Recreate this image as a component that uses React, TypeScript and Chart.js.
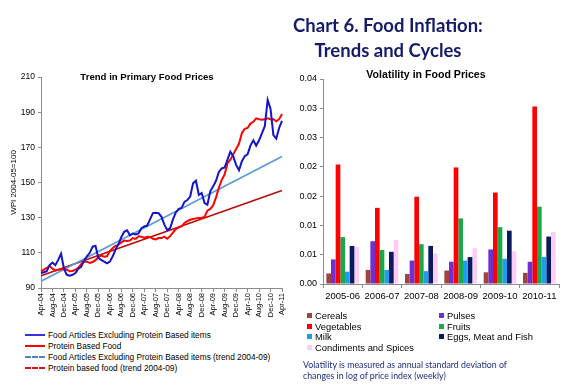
import React, { useEffect, useRef } from "react";
import { Chart, registerables } from "chart.js";
Chart.register(...registerables);

// ---------- Data: left chart (monthly, Apr-04 .. Apr-11) ----------
const MONTH_NAMES = ["Jan", "Feb", "Mar", "Apr", "May", "Jun", "Jul", "Aug", "Sep", "Oct", "Nov", "Dec"];
const START_YEAR = 2004;
const START_MONTH = 3; // April

const foodExProtein = [
  98.5, 99, 99.5, 103, 104.5, 103, 106, 109.5, 101, 97.5, 97, 97.5,
  98.5, 101, 102, 105.5, 108, 110, 113.5, 114, 107, 106, 105, 104,
  105, 108, 112, 115, 119, 122, 122.8, 120, 121, 120.5, 121, 124,
  125, 125.5, 129, 132.6, 132.8, 132.5, 130.5, 126, 123, 124, 129, 133,
  135, 135.5, 139, 140, 142, 149.5, 151, 143, 144, 138.3, 137.4, 145,
  147.8, 151, 156, 158, 158.5, 163, 167.5, 165, 160, 157, 162, 165,
  166, 171, 174, 171, 174, 178, 182, 197, 192, 177, 175, 181, 185,
];

const proteinFood = [
  99.5, 100.5, 101.4, 102.5, 101, 100, 100.4, 100.6, 100.8, 100.4, 99.5, 99.7,
  100.5, 101.5, 103.5, 105, 105, 104.2, 104.8, 105.8, 107.5, 108.4, 107.8, 108,
  111, 112.7, 114, 114.5, 116, 117, 116.8, 117, 118.4, 117.9, 119.4, 119.2,
  118.5, 119.2, 119, 118, 117.6, 118.4, 118.4, 119.2, 118, 119.5, 121.5, 123.5,
  124.5, 125, 127, 128, 128.8, 129.2, 129.6, 129.8, 130, 130.4, 134, 135,
  137, 141.5, 147, 151.5, 154.5, 161, 163, 166, 169, 172, 178, 180.5,
  181, 183.5, 184.5, 186.5, 186, 185.7, 186, 186.5, 186, 186, 184.8, 186, 189,
];

// trend lines: start and end values (straight lines)
const foodExProteinTrendEnds = [93.8, 164.8];
const proteinTrendEnds = [97.0, 145.4];

const yTicksLeft = { min: 90, max: 210, step: 20 };

// ---------- Data: right chart ----------
const years = ["2005-06", "2006-07", "2007-08", "2008-09", "2009-10", "2010-11"];
const cereals = [0.0018, 0.0024, 0.0017, 0.0023, 0.002, 0.0019];
const pulses = [0.0042, 0.0073, 0.004, 0.0038, 0.0059, 0.0038];
const vegetables = [0.0204, 0.013, 0.0149, 0.0199, 0.0156, 0.0303];
const fruits = [0.008, 0.0058, 0.0068, 0.0112, 0.0097, 0.0132];
const milk = [0.0021, 0.0024, 0.0022, 0.004, 0.0043, 0.0046];
const eggsMeatFish = [0.0065, 0.0055, 0.0065, 0.0046, 0.0091, 0.0081];
const condiments = [0.0063, 0.0075, 0.0052, 0.0061, 0.0056, 0.0089];

const yTicksRight = { min: 0, max: 0.035, step: 0.005 };

const SANS = "'Liberation Sans', Arial, sans-serif";

const monthLabels: string[] = foodExProtein.map((_, i) => {
  const m = (START_MONTH + i) % 12;
  const y = START_YEAR + Math.floor((START_MONTH + i) / 12);
  return `${MONTH_NAMES[m]}-${String(y % 100).padStart(2, "0")}`;
});

function trendSeries(ends: number[], n: number) {
  const arr: (number | null)[] = new Array(n).fill(null);
  arr[0] = ends[0];
  arr[n - 1] = ends[1];
  return arr;
}

const barSeries = [
  { label: "Cereals", data: cereals, color: "#A0423E" },
  { label: "Pulses", data: pulses, color: "#7030D0" },
  { label: "Vegetables", data: vegetables, color: "#FF0000" },
  { label: "Fruits", data: fruits, color: "#17A94A" },
  { label: "Milk", data: milk, color: "#1E9CF0" },
  { label: "Eggs, Meat and Fish", data: eggsMeatFish, color: "#0A1A5E" },
  { label: "Condiments and Spices", data: condiments, color: "#FFCCF5" },
];

export default function App() {
  const leftRef = useRef<HTMLCanvasElement | null>(null);
  const rightRef = useRef<HTMLCanvasElement | null>(null);

  useEffect(() => {
    const n = foodExProtein.length;
    const left = new Chart(leftRef.current!, {
      type: "line",
      data: {
        labels: monthLabels,
        datasets: [
          { label: "Food Articles Excluding Protein Based items", data: foodExProtein, borderColor: "#1414C8", borderWidth: 2, pointRadius: 0, tension: 0 },
          { label: "Protein Based Food", data: proteinFood, borderColor: "#FF0000", borderWidth: 2, pointRadius: 0, tension: 0 },
          { label: "Food Articles Excluding Protein Based items (trend 2004-09)", data: trendSeries(foodExProteinTrendEnds, n), borderColor: "#5A9AD8", borderWidth: 1.6, pointRadius: 0, spanGaps: true },
          { label: "Protein based food (trend 2004-09)", data: trendSeries(proteinTrendEnds, n), borderColor: "#B80C0C", borderWidth: 1.6, pointRadius: 0, spanGaps: true },
        ],
      },
      options: {
        animation: false,
        responsive: false,
        layout: { padding: { top: 77, right: 6.5, left: 0, bottom: 0 } },
        plugins: { legend: { display: false }, tooltip: { enabled: false } },
        scales: {
          x: {
            type: "category",
            grid: {
              drawOnChartArea: false,
              tickLength: 4,
              color: (ctx: any) => (ctx.index % 4 === 0 ? "#8c8c8c" : "rgba(0,0,0,0)"),
            },
            border: { color: "#8c8c8c" },
            ticks: {
              autoSkip: false,
              maxRotation: 90,
              minRotation: 90,
              padding: 1,
              color: "#000",
              font: { size: 7.5, family: SANS },
              callback: (_v: any, i: number) => (i % 4 === 0 ? monthLabels[i] : ""),
            },
            afterFit: (s: any) => {
              s.height = 37;
            },
          },
          y: {
            min: yTicksLeft.min,
            max: yTicksLeft.max,
            ticks: { stepSize: yTicksLeft.step, color: "#000", padding: 3, font: { size: 8.5, family: SANS } },
            grid: { drawOnChartArea: false, tickLength: 3, color: "#8c8c8c" },
            border: { color: "#8c8c8c" },
            title: { display: true, text: "WPI 2004-05=100", color: "#000", font: { size: 8, family: SANS }, padding: { top: 9, bottom: 0 } },
            afterFit: (s: any) => {
              s.width = 41;
            },
          },
        },
      },
    } as any);

    const right = new Chart(rightRef.current!, {
      type: "bar",
      data: {
        labels: years,
        datasets: barSeries.map((s) => ({
          label: s.label,
          data: s.data,
          backgroundColor: s.color,
          borderWidth: 0,
          barPercentage: 1,
          categoryPercentage: 0.83,
        })),
      },
      options: {
        animation: false,
        responsive: false,
        layout: { padding: { top: 79, right: 17, left: 0, bottom: 0 } },
        plugins: { legend: { display: false }, tooltip: { enabled: false } },
        scales: {
          x: {
            grid: { drawOnChartArea: false, offset: true, tickLength: 4, color: "#8c8c8c" },
            border: { color: "#8c8c8c" },
            ticks: { color: "#000", padding: 3, maxRotation: 0, minRotation: 0, autoSkip: false, font: { size: 9.5, family: SANS } },
            afterFit: (s: any) => {
              s.height = 26;
            },
          },
          y: {
            min: yTicksRight.min,
            max: yTicksRight.max,
            ticks: {
              stepSize: yTicksRight.step,
              color: "#000",
              padding: 3,
              font: { size: 9, family: SANS },
              callback: (v: any) => (Math.round(Number(v) * 100 + 1e-6) / 100).toFixed(2),
            },
            grid: { drawOnChartArea: false, tickLength: 3, color: "#8c8c8c" },
            border: { color: "#8c8c8c" },
            afterFit: (s: any) => {
              s.width = 33;
            },
          },
        },
      },
    } as any);

    return () => {
      left.destroy();
      right.destroy();
    };
  }, []);

  const abs = (x: number, y: number): React.CSSProperties => ({ position: "absolute", left: x, top: y, whiteSpace: "nowrap" });

  const leftLegend = [
    { label: "Food Articles Excluding Protein Based items", color: "#3333E0", dash: false },
    { label: "Protein Based Food", color: "#FF0000", dash: false },
    { label: "Food Articles Excluding Protein Based items (trend 2004-09)", color: "#4F7FD0", dash: true },
    { label: "Protein based food (trend 2004-09)", color: "#E01010", dash: true },
  ];

  return (
    <div style={{ position: "fixed", left: 0, top: 0, width: 576, height: 388, background: "#fff", overflow: "hidden", fontFamily: SANS }}>
      <canvas ref={leftRef} width={292} height={325} style={{ position: "absolute", left: 0, top: 0, width: 292, height: 325 }} />
      <canvas ref={rightRef} width={286} height={310} style={{ position: "absolute", left: 290, top: 0, width: 286, height: 310 }} />

      {/* main title */}
      <div style={{ position: "absolute", left: 388, top: 13, transform: "translateX(-50%)", textAlign: "center", fontFamily: "Lato, 'Open Sans', sans-serif", fontWeight: 700, fontSize: 18.5, lineHeight: "25px", color: "#141C6A", whiteSpace: "nowrap" }}>
        Chart 6. Food Inflation:
        <br />
        Trends and Cycles
      </div>

      {/* chart titles */}
      <div style={{ position: "absolute", left: 147, top: 71, transform: "translateX(-50%)", fontWeight: 700, fontSize: 9.6, lineHeight: "12px", color: "#000", whiteSpace: "nowrap" }}>
        Trend in Primary Food Prices
      </div>
      <div style={{ position: "absolute", left: 426, top: 67.5, transform: "translateX(-50%)", fontWeight: 700, fontSize: 10.6, lineHeight: "13px", color: "#000", whiteSpace: "nowrap" }}>
        Volatility in Food Prices
      </div>

      {/* left legend */}
      {leftLegend.map((it, i) => (
        <div key={it.label} style={{ ...abs(25, 329 + i * 11), height: 11, display: "flex", alignItems: "center", fontSize: 8.3, color: "#000" }}>
          <span style={{ display: "inline-block", width: 20, height: 0, borderTop: `2px ${it.dash ? "dashed" : "solid"} ${it.color}`, marginRight: 3 }} />
          <span>{it.label}</span>
        </div>
      ))}

      {/* right legend */}
      {barSeries.map((s, i) => (
        <div key={s.label} style={{ ...abs(i % 2 === 0 ? 307 : 439, 310 + Math.floor(i / 2) * 10.6), height: 11, display: "flex", alignItems: "center", fontSize: 9.4, color: "#000" }}>
          <span style={{ display: "inline-block", width: 5, height: 5, background: s.color, marginRight: 3 }} />
          <span>{s.label}</span>
        </div>
      ))}

      {/* note */}
      <div style={{ position: "absolute", left: 303, top: 359, fontFamily: "Lato, 'Open Sans', sans-serif", fontSize: 8.8, lineHeight: "11px", color: "#1E2C80", whiteSpace: "nowrap" }}>
        Volatility is measured as annual standard deviation of
        <br />
        changes in log of price index (weekly)
      </div>
    </div>
  );
}
